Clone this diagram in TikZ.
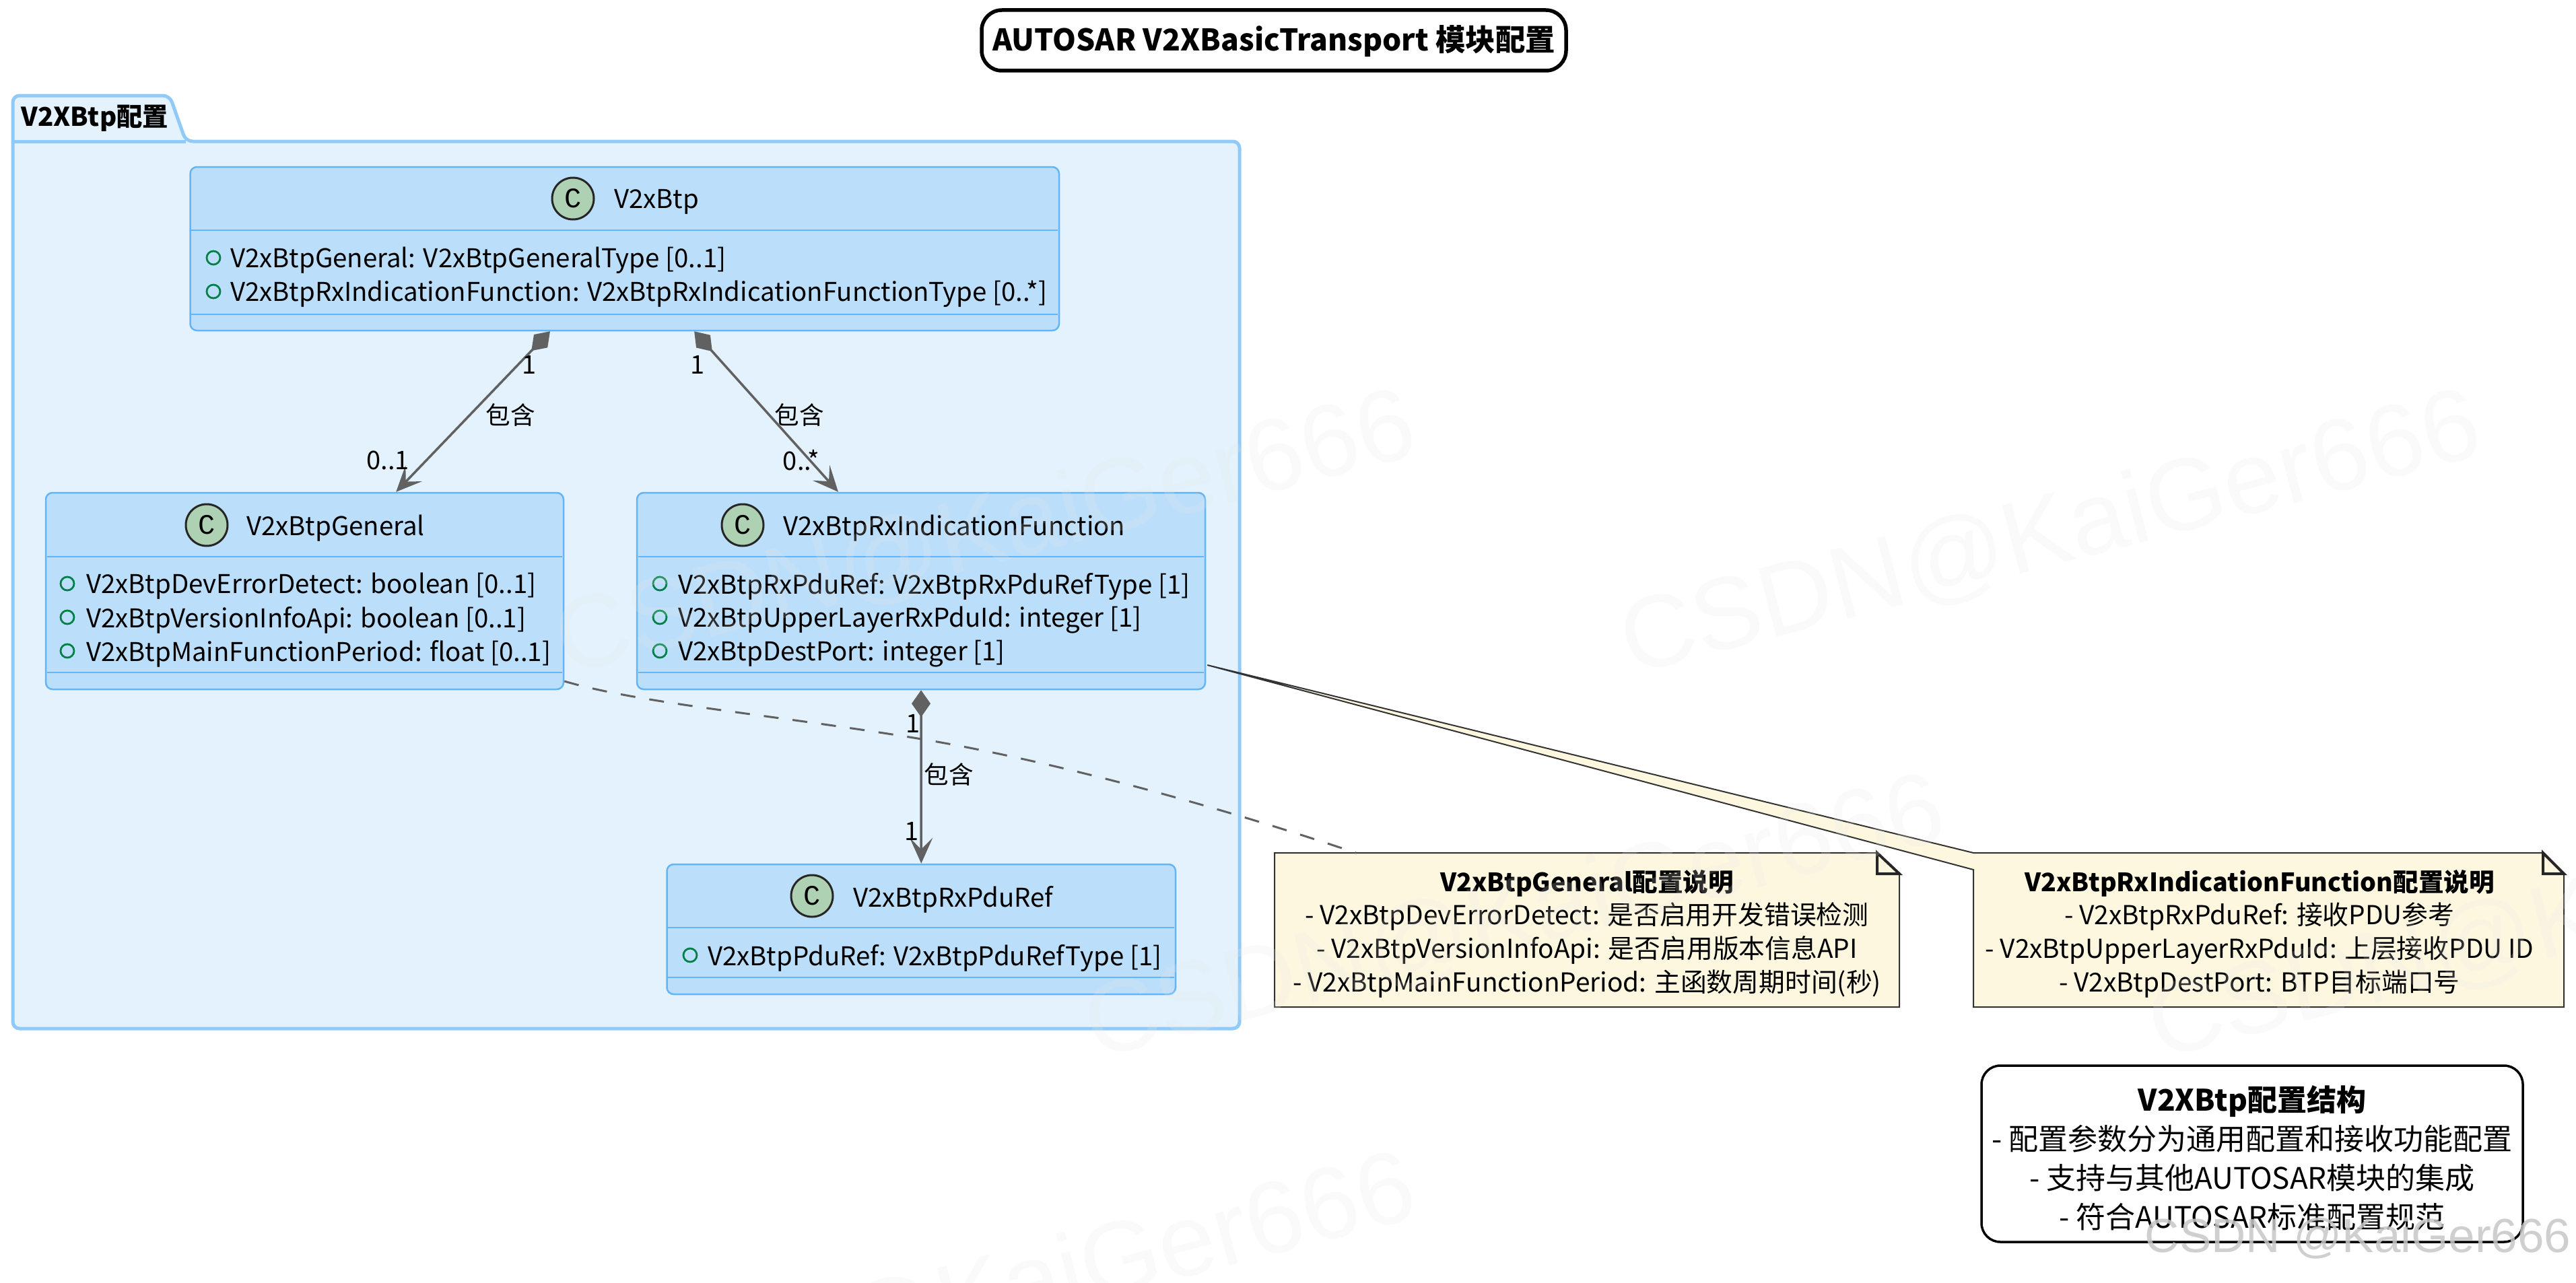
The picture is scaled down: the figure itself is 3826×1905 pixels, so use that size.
\documentclass[tikz,border=0pt]{standalone}
\usepackage{fontspec}
\setmainfont{Noto Sans CJK SC}
\newfontfamily\wmfont{Liberation Sans}
\newfontfamily\cfont{Liberation Mono}
\usetikzlibrary{arrows.meta,calc}
\definecolor{pkgfill}{HTML}{E3F2FD}
\definecolor{pkgline}{HTML}{90CAF9}
\definecolor{clsfill}{HTML}{BBDEFB}
\definecolor{clsline}{HTML}{64B5F6}
\definecolor{notefill}{HTML}{FEF7E0}
\definecolor{conn}{HTML}{616161}
\definecolor{spot}{HTML}{ADD1B2}
\definecolor{mgreen}{HTML}{038048}
\definecolor{wmgray}{HTML}{E8E8E8}
\tikzset{
 x=0.5pt,y=-0.5pt,
 clsbox/.style={draw=clsline,fill=clsfill,line width=1.25pt,rounded corners=5pt,inner sep=0pt},
 sepl/.style={draw=clsline,line width=1.1pt},
 spotc/.style={circle,draw=black!85,fill=spot,line width=1.5pt,minimum size=31pt,inner sep=0pt,font=\cfont\fontsize{21}{21}\selectfont},
 ttl/.style={anchor=west,inner sep=0pt,yshift=-2.5pt,font=\fontsize{19.2}{22}\selectfont},
 mem/.style={anchor=west,inner sep=0pt,yshift=-2pt,font=\fontsize{19.2}{22}\selectfont},
 vis/.style={circle,draw=mgreen,line width=1.4pt,minimum size=10pt,inner sep=0pt},
 lab/.style={inner sep=0pt,font=\fontsize{19}{22}\selectfont},
 cjklab/.style={inner sep=0pt,font=\fontsize{18.3}{22}\selectfont},
 comp/.style={draw=conn,line width=1.75pt,{Turned Square[length=20pt,width=14pt,fill=conn,sep=0pt]}-{Stealth[length=19pt,width=17pt,inset=8.5pt,fill=conn]}},
 notebox/.style={draw=black!80,fill=notefill,line width=1pt,line join=miter},
 foldl/.style={draw=black!85,line width=2pt,fill=notefill,line join=miter},
 notetxt/.style={align=center,inner sep=0pt,font=\fontsize{19.4}{24.8}\selectfont},
 notehead/.style={font=\fontsize{18.8}{24.8}\selectfont\bfseries},
 legtxt/.style={align=center,inner sep=0pt,font=\fontsize{22}{29}\selectfont},
 wm/.style={text=wmgray,text opacity=0.2,inner sep=0pt,rotate=14.5,font=\wmfont\fontsize{76}{76}\selectfont},
}
\begin{document}
\begin{tikzpicture}
\useasboundingbox (0,0) rectangle (3826,1905);
\fill[white] (0,0) rectangle (3826,1905);
% title
\node[draw=black,line width=2.75pt,rounded corners=15pt,minimum width=434pt,minimum height=45pt,inner sep=0pt,fill=white] (tbox) at (1892,60) {};
\node[inner sep=0pt,font=\fontsize{22.2}{24}\selectfont\bfseries] (ttext) at (1892,61) {AUTOSAR V2XBasicTransport 模块配置};
% package
\path[fill=pkgfill,draw=pkgline,line width=2.5pt,line join=round,rounded corners=5pt]
 (19,210) -- (19,142) -- (252,142) -- (276,210) -- (1841,210) -- (1841,1528) -- (19,1528) -- cycle;
\draw[pkgline,line width=2.5pt] (19,210) -- (276,210);
\node[anchor=west,inner sep=0pt,font=\fontsize{19.2}{22}\selectfont\bfseries] (pkgt) at (31,176) {V2XBtp配置};
% classes
\node[clsbox,minimum width=645.25pt,minimum height=121.5pt] (btp) at ({(282.5+1573)/2},{(248+491)/2}) {};
\draw[sepl] (284,342) -- (1571,342) (284,467) -- (1571,467);
\node[spotc] (s1) at (851,295) {C};
\node[ttl] (t1) at (912,295) {V2xBtp};
\node[vis] (v11) at (317,383) {}; \node[mem] (m11) at (342,383) {V2xBtpGeneral: V2xBtpGeneralType [0..1]};
\node[vis] (v12) at (317,433) {}; \node[mem] (m12) at (342,433) {V2xBtpRxIndicationFunction: V2xBtpRxIndicationFunctionType [0..*]};

\node[clsbox,minimum width=384.5pt,minimum height=146pt] (gen) at ({(68+837)/2},{(732+1024)/2}) {};
\draw[sepl] (70,827) -- (835,827) (70,999) -- (835,999);
\node[spotc] (s2) at (307,780) {C};
\node[ttl] (t2) at (366,780) {V2xBtpGeneral};
\node[vis] (v21) at (100,867) {}; \node[mem] (m21) at (128,867) {V2xBtpDevErrorDetect: boolean [0..1]};
\node[vis] (v22) at (100,917) {}; \node[mem] (m22) at (128,917) {V2xBtpVersionInfoApi: boolean [0..1]};
\node[vis] (v23) at (100,967) {}; \node[mem] (m23) at (128,967) {V2xBtpMainFunctionPeriod: float [0..1]};

\node[clsbox,minimum width=422pt,minimum height=146pt] (rx) at ({(946+1790)/2},{(732+1024)/2}) {};
\draw[sepl] (948,827) -- (1788,827) (948,999) -- (1788,999);
\node[spotc] (s3) at (1103,780) {C};
\node[ttl] (t3) at (1163,780) {V2xBtpRxIndicationFunction};
\node[vis] (v31) at (980,867) {}; \node[mem] (m31) at (1007,867) {V2xBtpRxPduRef: V2xBtpRxPduRefType [1]};
\node[vis] (v32) at (980,917) {}; \node[mem] (m32) at (1007,917) {V2xBtpUpperLayerRxPduId: integer [1]};
\node[vis] (v33) at (980,967) {}; \node[mem] (m33) at (1007,967) {V2xBtpDestPort: integer [1]};

\node[clsbox,minimum width=377.75pt,minimum height=96.5pt] (pdu) at ({(990.5+1746)/2},{(1284+1477)/2}) {};
\draw[sepl] (992,1378) -- (1744,1378) (992,1452) -- (1744,1452);
\node[spotc] (s4) at (1206,1331) {C};
\node[ttl] (t4) at (1267,1331) {V2xBtpRxPduRef};
\node[vis] (v41) at (1025,1419) {}; \node[mem] (m41) at (1051,1419) {V2xBtpPduRef: V2xBtpPduRefType [1]};
% notes
\coordinate (wedgeapex) at ([xshift=1pt,yshift=-55pt]rx.east);
\path[notebox] (2931,1267) -- (wedgeapex) -- (2931,1292) -- (2931,1496) -- (3808,1496) -- (3808,1298) -- (3777,1267) -- cycle;
\path[foldl] (3777,1267) -- (3808,1298) -- (3777,1298) -- cycle;
\path[notebox] (1893,1267) -- (2788,1267) -- (2821,1298) -- (2821,1496) -- (1893,1496) -- cycle;
\path[foldl] (2788,1267) -- (2821,1298) -- (2788,1298) -- cycle;
\coordinate (n1top) at (2014,1267);
\node[notetxt] (n1) at (2357,1387) {{\tikzset{notehead}\fontsize{18.8}{24.8}\selectfont\bfseries V2xBtpGeneral配置说明}\\- V2xBtpDevErrorDetect: 是否启用开发错误检测\\- V2xBtpVersionInfoApi: 是否启用版本信息API\\- V2xBtpMainFunctionPeriod: 主函数周期时间(秒)};
\node[notetxt] (n2) at (3356,1387) {{\fontsize{18.8}{24.8}\selectfont\bfseries V2xBtpRxIndicationFunction配置说明}\\- V2xBtpRxPduRef: 接收PDU参考\\- V2xBtpUpperLayerRxPduId: 上层接收PDU ID\\- V2xBtpDestPort: BTP目标端口号};
% legend
\node[draw=black,line width=1.75pt,rounded corners=14pt,fill=white,minimum width=402pt,minimum height=131pt,inner sep=0pt] (leg) at (3345,1714) {};
\node[legtxt] (legt) at (3345,1720) {{\bfseries V2XBtp配置结构}\\- 配置参数分为通用配置和接收功能配置\\- 支持与其他AUTOSAR模块的集成\\- 符合AUTOSAR标准配置规范};
% connectors
\draw[comp] ([xshift=-55.4pt]btp.south) -- ([xshift=-125pt]gen.north east);
\draw[comp] ([xshift=51.7pt]btp.south) -- ([xshift=-61.5pt]rx.north);
\draw[comp] (rx.south) -- (pdu.north);
\draw[conn,line width=1.5pt,dash pattern=on 11pt off 10.5pt] ([yshift=-67pt]gen.east) .. controls (950,1045) and (1150,1062) .. (1369,1098) .. controls (1560,1130) and (1800,1195) .. (n1top);
% connector labels
\node[lab] (l1a) at (786,542) {1};
\node[cjklab] (l1b) at (758,616) {包含};
\node[lab] (l1c) at (576,684) {0..1};
\node[lab] (l2a) at (1036,542) {1};
\node[cjklab] (l2b) at (1187,616) {包含};
\node[lab] (l2c) at (1190,684) {0..*};
\node[lab] (l3a) at (1356,1075) {1};
\node[cjklab] (l3b) at (1409,1150) {包含};
\node[lab] (l3c) at (1354,1235) {1};
% watermarks
\begin{scope}
\clip (0,0) rectangle (3826,1905);
\node[wm] (w1) at (1464,795) {CSDN@KaiGer666};
\node[wm] (w2) at (3046,795) {CSDN@KaiGer666};
\node[wm] (w3) at (2250,1366) {CSDN@KaiGer666};
\node[wm] (w4) at (3830,1366) {CSDN@KaiGer666};
\node[wm] (w5) at (1464,1928) {CSDN@KaiGer666};
\end{scope}
\node[text=black!22,text opacity=0.85,inner sep=0pt,font=\wmfont\fontsize{35.5}{40}\selectfont] (wmark) at (3502,1840) {CSDN @KaiGer666};
\end{tikzpicture}
\end{document}
